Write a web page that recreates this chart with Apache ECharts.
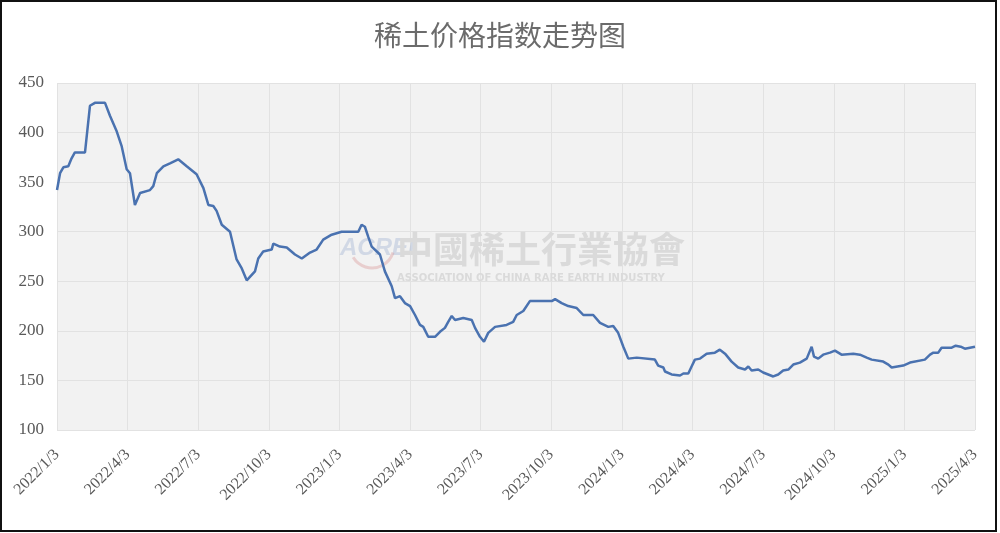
<!DOCTYPE html>
<html>
<head>
<meta charset="utf-8">
<script src="https://cdn.jsdelivr.net/npm/echarts@6/dist/echarts.min.js"></script>
<style>
html,body{margin:0;padding:0;background:#fff;}
#chart{width:1000px;height:533px;}
</style>
</head>
<body>
<div id="chart"></div>
<script>
// Tick labels along the x axis (one every 3 months)
const tickLabels = ['2022/1/3','2022/4/3','2022/7/3','2022/10/3','2023/1/3','2023/4/3','2023/7/3',
  '2023/10/3','2024/1/3','2024/4/3','2024/7/3','2024/10/3','2025/1/3','2025/4/3'];

// Position of each point, in months since 2022/1/3
const monthOffsets = [
  0,0.13,0.27,0.48,0.62,0.76,1.19,1.40,1.61,2.04,
  2.25,2.54,2.75,2.96,3.10,3.31,3.53,3.95,4.09,4.24,
  4.52,4.80,5.15,5.51,5.93,6.22,6.43,6.64,6.78,7.00,
  7.35,7.63,7.85,8.06,8.41,8.55,8.76,9.12,9.19,9.47,
  9.76,10.11,10.40,10.75,11.03,11.31,11.67,12.09,12.80,12.94,
  13.08,13.22,13.37,13.72,13.93,14.22,14.36,14.57,14.78,15.00,
  15.21,15.42,15.56,15.77,16.06,16.27,16.48,16.62,16.77,16.91,
  17.26,17.62,17.76,17.97,18.14,18.32,18.61,19.10,19.38,19.53,
  19.81,20.09,21.02,21.16,21.44,21.72,22.08,22.36,22.78,23.07,
  23.42,23.63,23.84,24.06,24.27,24.63,25.40,25.54,25.76,25.83,
  26.11,26.47,26.61,26.82,26.96,27.10,27.32,27.60,27.95,28.16,
  28.38,28.66,28.94,29.23,29.37,29.51,29.79,30.00,30.43,30.64,
  30.85,31.07,31.28,31.56,31.85,32.06,32.16,32.34,32.55,32.84,
  33.05,33.33,33.83,34.11,34.40,34.61,35.10,35.32,35.46,35.95,
  36.24,36.87,37.09,37.23,37.44,37.58,38.01,38.18,38.39,38.57,
  39.00
];

// Rare-earth price index values
const indexValues = [
  342,359,365,366,374,380,380,427,430,430,
  417,401,386,363,359,327,339,342,346,359,
  366,369,373,366,358,344,327,326,321,307,
  300,272,263,251,260,273,280,282,288,285,
  284,277,273,279,282,292,297,300,300,307,
  305,295,285,277,260,245,233,235,228,225,
  216,206,204,194,194,199,203,209,215,211,
  213,211,203,194,189,198,204,206,209,216,
  220,230,230,232,228,225,223,216,216,208,
  204,205,198,184,172,173,171,165,163,159,
  156,155,157,157,164,171,172,177,178,181,
  177,169,163,161,164,160,161,158,154,156,
  160,161,166,168,172,184,174,172,176,178,
  180,176,177,176,173,171,169,166,163,165,
  168,171,176,178,178,183,183,185,184,182,
  184
];

const seriesData = monthOffsets.map((m, i) => [m, indexValues[i]]);

const chart = echarts.init(document.getElementById('chart'), null, { renderer: 'canvas' });
chart.setOption({
  backgroundColor: '#ffffff',
  animation: false,
  title: {
    text: '稀土价格指数走势图',
    left: 'center',
    top: 16,
    textStyle: { color: '#6b6b6b', fontSize: 28, fontWeight: 'normal', fontFamily: 'Noto Sans CJK SC' }
  },
  grid: {
    left: 57, right: 25, top: 83, bottom: 103,
    show: true, backgroundColor: '#f2f2f2', borderWidth: 0
  },
  xAxis: {
    type: 'value', min: 0, max: 39, interval: 3,
    axisLine: { show: false }, axisTick: { show: false },
    splitLine: { show: true, lineStyle: { color: '#e2e2e2', width: 1 } },
    axisLabel: {
      rotate: 45, margin: 22, color: '#595959', fontSize: 16,
      fontFamily: 'Liberation Serif', showMinLabel: true, showMaxLabel: true,
      formatter: v => tickLabels[Math.round(v / 3)]
    }
  },
  yAxis: {
    type: 'value', min: 100, max: 450, interval: 50,
    axisLine: { show: false }, axisTick: { show: false },
    splitLine: { show: true, lineStyle: { color: '#e2e2e2', width: 1 } },
    axisLabel: { margin: 13, color: '#595959', fontSize: 17, fontFamily: 'Liberation Serif' }
  },
  graphic: [
    { type: 'rect', z: 100, silent: true, shape: { x: 1, y: 1, width: 995, height: 530 },
      style: { fill: 'none', stroke: '#111111', lineWidth: 2 } },
    { type: 'text', left: 340, top: 236, z: 1, silent: true,
      style: { text: 'ACREI', fontSize: 24, fontWeight: 'bold', fontStyle: 'italic',
        fontFamily: 'Liberation Sans', fill: 'rgba(150,170,205,0.35)' } },
    { type: 'arc', z: 1, silent: true, shape: { cx: 372, cy: 246, r: 22, startAngle: 0.3, endAngle: 2.6 },
      style: { stroke: 'rgba(215,140,140,0.35)', lineWidth: 3, fill: 'none' } },
    { type: 'text', left: 397, top: 231, z: 1, silent: true,
      style: { text: '中國稀土行業協會', fontSize: 36, fontWeight: 'bold',
        fontFamily: 'Noto Sans CJK TC', fill: '#dadada' } },
    { type: 'text', left: 397, top: 273, z: 1, silent: true,
      style: { text: 'ASSOCIATION OF CHINA RARE EARTH INDUSTRY', fontSize: 10, fontWeight: 'bold',
        fontFamily: 'DejaVu Sans', fill: '#dadada' } }
  ],
  series: [{
    type: 'line', data: seriesData, showSymbol: false, smooth: false, z: 5,
    lineStyle: { color: '#4a72b0', width: 2.5 }
  }]
});
</script>
</body>
</html>
